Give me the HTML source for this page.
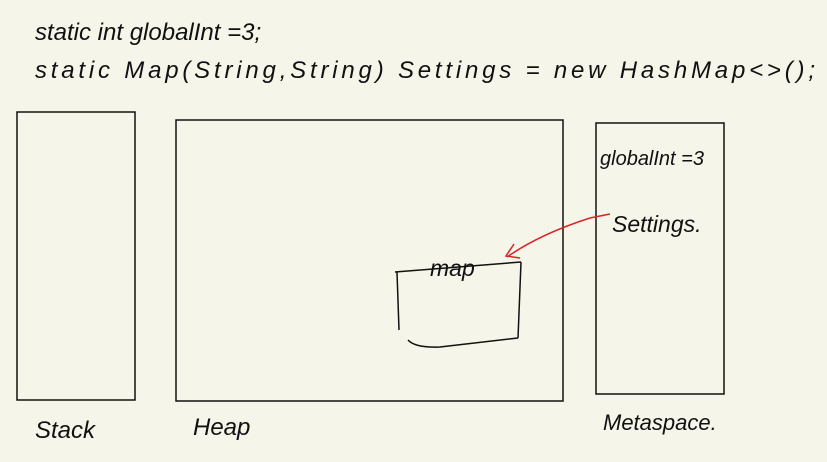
<!DOCTYPE html>
<html><head><style>
html,body{margin:0;padding:0;background:#f5f5ea;}
svg{display:block}
text{font-family:"Liberation Sans",sans-serif;fill:#111;font-style:italic}
</style></head><body>
<svg width="827" height="462" viewBox="0 0 827 462">
<rect width="827" height="462" fill="#f5f5ea"/>
<g fill="none" stroke="#111" stroke-width="1.5">
<rect x="17" y="112" width="118" height="288"/>
<rect x="176" y="120" width="387" height="281"/>
<rect x="596" y="123" width="128" height="271"/>
<path d="M395 272 L521 262"/>
<path d="M397 272 L399 330"/>
<path d="M521 262 L518 338"/>
<path d="M408 340 Q415 348 440 347 L518 338"/>
</g>
<path d="M610 214 L590 218 Q540 234 507 257" stroke="#d22" stroke-width="1.5" fill="none"/>
<path d="M514 244 L506 256 L520 258" stroke="#d22" stroke-width="1.5" fill="none"/>
<text x="35" y="40" font-size="24">static int globalInt =3;</text>
<text x="35" y="78" font-size="24" textLength="780">static Map(String,String) Settings = new HashMap&lt;&gt;();</text>
<text x="600" y="165" font-size="20">globalInt =3</text>
<text x="612" y="232" font-size="23">Settings.</text>
<text x="430" y="276" font-size="23">map</text>
<text x="35" y="438" font-size="24">Stack</text>
<text x="193" y="435" font-size="24">Heap</text>
<text x="603" y="430" font-size="22">Metaspace.</text>
</svg>
</body></html>
